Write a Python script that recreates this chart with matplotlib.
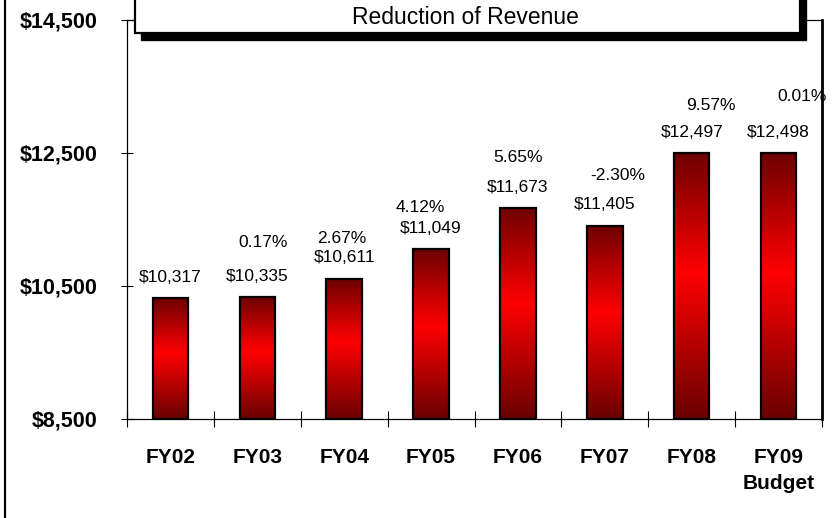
#!/usr/bin/env python3

"""
General fund revenue by fiscal year, FY02 through the FY09 budget,
with year-over-year growth printed above each bar.
"""

import numpy as np
import matplotlib
matplotlib.use("Agg")
import matplotlib.pyplot as plt
from matplotlib.colors import LinearSegmentedColormap
from matplotlib.patches import Rectangle
from matplotlib.lines import Line2D

plt.rcParams["font.family"] = ["Liberation Sans", "DejaVu Sans"]

# DATA------------------------------------------------------------------------
years = ["FY02", "FY03", "FY04", "FY05", "FY06", "FY07", "FY08", "FY09\nBudget"]
revenue = [10317, 10335, 10611, 11049, 11673, 11405, 12497, 12498]
growth = ["", "0.17%", "2.67%", "4.12%", "5.65%", "-2.30%", "9.57%", "0.01%"]
y_ticks = [8500, 10500, 12500, 14500]

# growth labels sit a little off each bar label (points, x then y)
growth_offsets = [(0, 0), (4, 24), (-2, 14), (-8, 15), (0, 21), (9, 21), (14, 19), (17, 26)]

# PLOT------------------------------------------------------------------------
fig = plt.figure(figsize=(8.4, 5.18), dpi=100)
W, H = 840, 518
ax = fig.add_axes([127 / W, 1 - 419 / H, (822 - 127) / W, (419 - 20) / H])

x = np.arange(len(years))
bars = ax.bar(x, np.array(revenue) - y_ticks[0], bottom=y_ticks[0], width=0.41,
              facecolor="none", edgecolor="black", linewidth=1.6, zorder=3)

# dark-bright-dark red fill for each bar
red_cmap = LinearSegmentedColormap.from_list(
    "bar_red", [(0.0, "#6e0000"), (0.45, "#ff0000"), (1.0, "#6a0000")])
grad = np.linspace(0, 1, 256).reshape(-1, 1)
for b in bars:
    bx, by = b.get_x(), b.get_y()
    bw, bh = b.get_width(), b.get_height()
    im = ax.imshow(grad, cmap=red_cmap, aspect="auto", origin="upper",
                   extent=[bx, bx + bw, by, by + bh], zorder=2)
    clip = Rectangle((bx, by), bw, bh, transform=ax.transData)
    im.set_clip_path(clip)

ax.set_xlim(-0.5, len(years) - 0.5)
ax.set_ylim(y_ticks[0], y_ticks[-1])

for i, v in enumerate(revenue):
    ax.annotate(f"${v:,}", (x[i], v), xytext=(0, 15), textcoords="offset points",
                ha="center", va="center", fontsize=12.5)
    if growth[i]:
        dx, dy = growth_offsets[i]
        ax.annotate(growth[i], (x[i], v), xytext=(dx, 15 + dy),
                    textcoords="offset points", ha="center", va="center",
                    fontsize=12.5, annotation_clip=False)

# axes styling
ax.set_yticks(y_ticks)
ax.set_yticklabels([f"${t:,}" for t in y_ticks], fontsize=15.5, fontweight="bold")
ax.tick_params(axis="y", direction="inout", length=9, width=0.8, pad=17)

ax.set_xticks(x)
ax.set_xticklabels(years, fontsize=15, fontweight="bold", linespacing=1.45)
ax.tick_params(axis="x", which="major", length=0, pad=21)
ax.set_xticks(np.arange(len(years) + 1) - 0.5, minor=True)
ax.tick_params(axis="x", which="minor", direction="inout", length=11, width=0.8)

for side in ["left", "bottom", "top"]:
    ax.spines[side].set_linewidth(0.9)
ax.spines["right"].set_linewidth(2.0)

# title box with drop shadow
shadow = Rectangle(((135 + 6) / W, 1 - (33 + 7) / H), (800 - 135) / W, 60 / H,
                   transform=fig.transFigure, facecolor="black", edgecolor="black",
                   zorder=5)
box = Rectangle((135 / W, 1 - 33 / H), (800 - 135) / W, 60 / H,
                transform=fig.transFigure, facecolor="white", edgecolor="black",
                linewidth=1.6, zorder=6)
fig.patches.extend([shadow, box])
fig.text(465 / W, 1 - 18 / H, "Reduction of Revenue", ha="center", va="center",
         fontsize=16.5, zorder=7)

# outer frame line on the left
fig.add_artist(Line2D([5 / W, 5 / W], [0, 1], transform=fig.transFigure,
                      color="black", linewidth=1.6))

fig.savefig("out.png", dpi=100)
